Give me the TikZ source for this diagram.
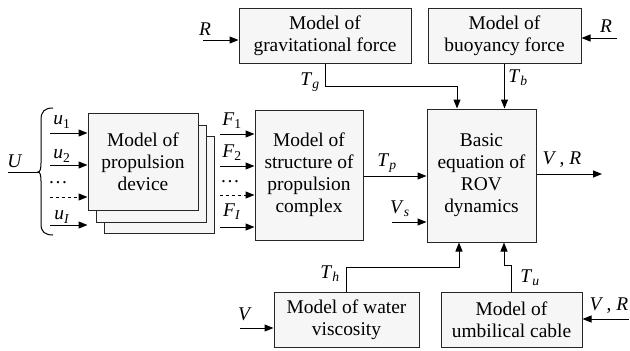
\documentclass[tikz,border=0pt]{standalone}
\usepackage{fontspec}
\setmainfont{Liberation Serif}
\newfontfamily\diagfont{Liberation Serif}
\usetikzlibrary{arrows.meta,calc}
\newcommand{\lbl}[2]{\textit{#1}\textsubscript{#2}}
\begin{document}
\begin{tikzpicture}[x=1bp,y=-1bp,
  font=\diagfont\fontsize{19.5}{22}\selectfont,
  box/.style={draw=black!85, fill=gray!7, line width=1bp, align=center, inner sep=0pt},
  conn/.style={line width=1bp},
  arr/.style={conn, -{Triangle[length=9bp,width=7bp]}},
  lab/.style={inner sep=0pt}]
\useasboundingbox (0,0) rectangle (630,350);

% boxes
\node[box, minimum width=172bp, minimum height=55bp] (grav) at (325,35.5) {Model of\\gravitational force};
\node[box, minimum width=153bp, minimum height=55bp] (buoy) at (504.5,35.5) {Model of\\buoyancy force};
\node[box, minimum width=109bp, minimum height=133bp] (basic) at (481.5,175.5) {Basic\\equation of\\ROV\\dynamics};
\node[box, minimum width=108bp, minimum height=130bp] (struct) at (309,175) {Model of\\structure of\\propulsion\\complex};
\node[box, minimum width=110bp, minimum height=97bp] (prop3) at (159,185) {};
\node[box, minimum width=110bp, minimum height=97bp] (prop2) at (151,173.5) {};
\node[box, minimum width=110bp, minimum height=97bp] (prop) at (143,161.5) {Model of\\propulsion\\device};
\node[box, minimum width=145bp, minimum height=55bp] (visc) at (346.5,319.5) {Model of water\\viscosity};
\node[box, minimum width=141bp, minimum height=55bp] (umb) at (511.5,319.5) {Model of\\umbilical cable};

% coordinates
\coordinate (rg) at (203,40);
\coordinate (rb) at (617,38);
\coordinate (tgk) at (0,86);
\coordinate (thk) at (0,267);
\coordinate (tuk) at (0,265);
\coordinate (tp) at (400,176);
\coordinate (vs) at (392,222);
\coordinate (out) at (602,174);
\coordinate (vin) at (240,328);
\coordinate (vrin) at (629,319);
\coordinate (ua) at (50,133);
\coordinate (ub) at (50,165);
\coordinate (uc) at (50,197);
\coordinate (ud) at (50,225);
\coordinate (fa) at (220,134);
\coordinate (fb) at (220,166);
\coordinate (fc) at (220,195);
\coordinate (fd) at (220,227);
\coordinate (uin) at (8,172);
\coordinate (btip) at (38,172);

% connectors
\draw[arr] (rg) -- (rg -| grav.west);
\draw[arr] (rb) -- (rb -| buoy.east);
\draw[arr] (grav.south) -- (grav.south |- tgk) -| ([xshift=-24.5bp]basic.north);
\draw[arr] (buoy.south) -- (buoy.south |- basic.north);
\draw[arr] (tp -| struct.east) -- (tp -| basic.west);
\draw[arr] (vs) -- (vs -| basic.west);
\draw[arr] (out -| basic.east) -- (out);
\draw[arr] (visc.north) -- (visc.north |- thk) -| ([xshift=-22.5bp]basic.south);
\draw[arr] (umb.north) -- (umb.north |- tuk) -| ([xshift=22.5bp]basic.south);
\draw[arr] (vin) -- (vin -| visc.west);
\draw[arr] (vrin) -- (vrin -| umb.east);
\draw[arr] (ua) -- (ua -| prop.west);
\draw[arr] (ub) -- (ub -| prop.west);
\draw[arr, dashed] (uc) -- (uc -| prop.west);
\draw[arr] (ud) -- (ud -| prop.west);
\draw[arr] (fa) -- (fa -| struct.west);
\draw[arr] (fb) -- (fb -| struct.west);
\draw[arr, dashed] (fc) -- (fc -| struct.west);
\draw[arr] (fd) -- (fd -| struct.west);
\draw[conn] (uin) -- (btip);
% brace
\draw[conn] (53,108) .. controls (45,108) and (41,111) .. (41,120) -- (41,163)
  .. controls (41,169) and (40,172) .. (btip)
  .. controls (40,172) and (41,175) .. (41,181) -- (41,224)
  .. controls (41,232) and (45,235) .. (53,235);

% labels
\node[lab] (lrg) at (205,29) {\textit{R}};
\node[lab] (lrb) at (606,26) {\textit{R}};
\node[lab] (ltg) at (310,82) {\lbl{T}{\textit{g}}};
\node[lab] (ltb) at (518,78) {\lbl{T}{\textit{b}}};
\node[lab] (ltp) at (387,163) {\lbl{T}{\textit{p}}};
\node[lab] (lvs) at (400,209) {\lbl{V}{\textit{s}}};
\node[lab] (lout) at (562,160) {\textit{V}\,, \textit{R}};
\node[lab] (lth) at (330,274) {\lbl{T}{\textit{h}}};
\node[lab] (ltu) at (530,278) {\lbl{T}{\textit{u}}};
\node[lab] (lv) at (245,314) {\textit{V}};
\node[lab] (lvr) at (609,306) {\textit{V}\,, \textit{R}};
\node[lab] (lU) at (15,161) {\textit{U}};
\node[lab] (lu1) at (62,122) {\lbl{u}{1}};
\node[lab] (lu2) at (62,156) {\lbl{u}{2}};
\node[lab] (lud) at (58,183) {\ldots};
\node[lab] (luI) at (62,217) {\lbl{u}{\textit{I}}};
\node[lab] (lf1) at (232,121) {\lbl{F}{1}};
\node[lab] (lf2) at (232,153) {\lbl{F}{2}};
\node[lab] (lfd) at (230,182) {\ldots};
\node[lab] (lfI) at (232,212) {\lbl{F}{\textit{I}}};
\end{tikzpicture}
\end{document}
